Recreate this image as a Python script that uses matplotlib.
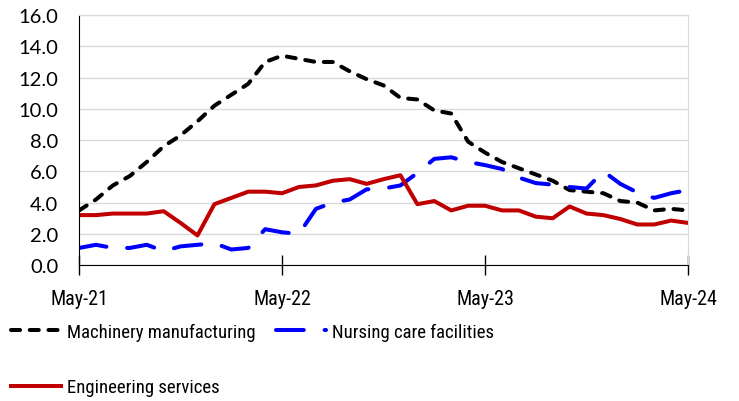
import matplotlib
matplotlib.use("Agg")
import matplotlib.pyplot as plt
import numpy as np

# monthly series, May-21 .. May-24
machinery = [3.5, 4.2, 5.1, 5.7, 6.6, 7.6, 8.3, 9.2, 10.2, 10.9, 11.6, 13.0,
             13.4, 13.2, 13.0, 13.0, 12.4, 11.9, 11.5, 10.7, 10.6, 9.9, 9.7, 7.9,
             7.2, 6.6, 6.2, 5.8, 5.4, 4.8, 4.7, 4.6, 4.1, 4.0, 3.5, 3.6, 3.5]
nursing = [1.1, 1.3, 1.1, 1.1, 1.3, 0.9, 1.2, 1.3, 1.4, 1.0, 1.1, 2.3,
           2.1, 2.0, 3.6, 4.0, 4.2, 4.85, 4.9, 5.1, 5.9, 6.8, 6.9, 6.6,
           6.4, 6.15, 5.6, 5.25, 5.15, 5.0, 4.9, 6.0, 5.2, 4.65, 4.3, 4.6, 4.8]
engineering = [3.2, 3.2, 3.3, 3.3, 3.3, 3.45, 2.7, 1.9, 3.9, 4.3, 4.7, 4.7,
               4.6, 5.0, 5.1, 5.4, 5.5, 5.2, 5.5, 5.75, 3.9, 4.1, 3.5, 3.8,
               3.8, 3.5, 3.5, 3.1, 3.0, 3.75, 3.3, 3.2, 2.95, 2.6, 2.6, 2.85, 2.7]
tick_labels = ["May-21", "May-22", "May-23", "May-24"]

months = np.arange(len(machinery))

plt.rcParams["font.family"] = ["Roboto Condensed", "Lato", "DejaVu Sans"]
plt.rcParams["lines.scale_dashes"] = False

fig = plt.figure(figsize=(7.39, 4.02), dpi=100)
ax = fig.add_axes([0.107, 0.338, 0.824, 0.622])

lw = 2.9
l1, = ax.plot(months, machinery, color="black", lw=lw, dashes=(6.5, 7),
              dash_capstyle="round", label="Machinery manufacturing")
l2, = ax.plot(months, nursing, color="#0000FF", lw=lw, dashes=(20, 15),
              dash_capstyle="round", label="Nursing care facilities")
l3, = ax.plot(months, engineering, color="#C00000", lw=lw,
              solid_joinstyle="round", label="Engineering services")

ax.set_xlim(0, 36)
ax.set_ylim(0, 16)
ax.set_yticks(np.arange(0, 17, 2))
ax.set_yticklabels([f"{v:.1f}" for v in np.arange(0, 17, 2)],
                   family=["Lato", "DejaVu Sans"])
ax.set_xticks([0, 12, 24, 36])
ax.set_xticklabels(tick_labels)

ax.grid(axis="y", color="#d9d9d9", lw=1)
ax.set_axisbelow(True)
ax.tick_params(axis="y", length=0, pad=15, labelsize=14.5)
ax.tick_params(axis="x", direction="inout", length=14, width=1, pad=10,
               labelsize=14.5)

ax.spines["left"].set_color("black")
ax.spines["bottom"].set_color("black")
ax.spines["top"].set_color("#d9d9d9")
ax.spines["right"].set_color("#d9d9d9")

# column-first fill: machinery + engineering in col 1, nursing in col 2
fig.legend(handles=[l1, l3, l2], loc="upper left",
           bbox_to_anchor=(0.005, 0.214), ncol=2, frameon=False,
           fontsize=13.5, handlelength=2.65, handletextpad=0.32,
           columnspacing=1.1, labelspacing=2.0, borderaxespad=0)

fig.savefig("out.png", dpi=100)
